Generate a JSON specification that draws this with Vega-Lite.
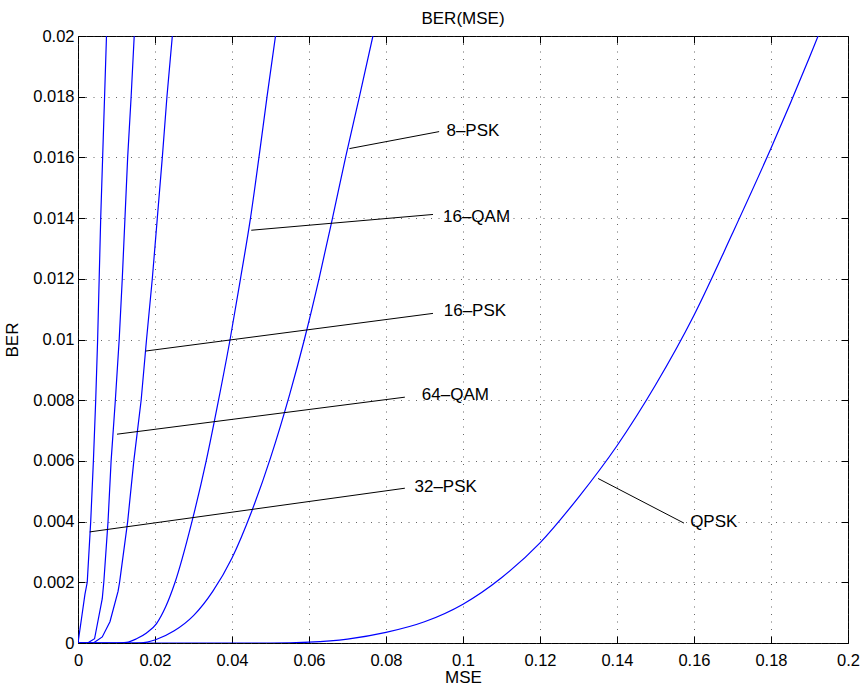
{
  "$schema": "https://vega.github.io/schema/vega-lite/v6.json",
  "width": 770,
  "height": 607,
  "autosize": {"type": "none"},
  "padding": {"left": 78, "top": 36, "right": 13, "bottom": 46},
  "background": "white",
  "title": {"text": "BER(MSE)", "fontSize": 17, "font": "Liberation Sans", "fontWeight": "normal", "color": "black", "offset": 0, "anchor": "middle"},
  "config": {
    "view": {"stroke": "black", "strokeWidth": 1},
    "axis": {
      "labelFont": "Liberation Sans", "labelFontSize": 16.5, "labelColor": "black",
      "titleFont": "Liberation Sans", "titleFontSize": 17, "titleFontWeight": "normal", "titleColor": "black",
      "tickColor": "black", "tickSize": -7, "tickWidth": 1,
      "domainColor": "black",
      "gridColor": "#333", "gridDash": [1, 6.5], "gridWidth": 1, "gridOpacity": 0.75
    }
  },
  "datasets": {
    "steep": [
      {"series": "32-PSK", "mse": 0, "ber": 0},
      {"series": "32-PSK", "mse": 0.0009, "ber": 0.0008},
      {"series": "32-PSK", "mse": 0.0018, "ber": 0.0016},
      {"series": "32-PSK", "mse": 0.0024, "ber": 0.002},
      {"series": "32-PSK", "mse": 0.0033, "ber": 0.004},
      {"series": "32-PSK", "mse": 0.0040, "ber": 0.006},
      {"series": "32-PSK", "mse": 0.0046, "ber": 0.008},
      {"series": "32-PSK", "mse": 0.0051, "ber": 0.010},
      {"series": "32-PSK", "mse": 0.0055, "ber": 0.012},
      {"series": "32-PSK", "mse": 0.0059, "ber": 0.014},
      {"series": "32-PSK", "mse": 0.0064, "ber": 0.016},
      {"series": "32-PSK", "mse": 0.0069, "ber": 0.018},
      {"series": "32-PSK", "mse": 0.0074, "ber": 0.020},
      {"series": "32-PSK", "mse": 0.0079, "ber": 0.022},
      {"series": "64-QAM", "mse": 0, "ber": 0},
      {"series": "64-QAM", "mse": 0.0025, "ber": 0},
      {"series": "64-QAM", "mse": 0.0043, "ber": 0.00014},
      {"series": "64-QAM", "mse": 0.0063, "ber": 0.00146},
      {"series": "64-QAM", "mse": 0.0067, "ber": 0.002},
      {"series": "64-QAM", "mse": 0.0078, "ber": 0.004},
      {"series": "64-QAM", "mse": 0.0086, "ber": 0.006},
      {"series": "64-QAM", "mse": 0.0097, "ber": 0.008},
      {"series": "64-QAM", "mse": 0.0107, "ber": 0.010},
      {"series": "64-QAM", "mse": 0.0115, "ber": 0.012},
      {"series": "64-QAM", "mse": 0.0122, "ber": 0.014},
      {"series": "64-QAM", "mse": 0.0129, "ber": 0.016},
      {"series": "64-QAM", "mse": 0.0138, "ber": 0.018},
      {"series": "64-QAM", "mse": 0.0146, "ber": 0.020},
      {"series": "64-QAM", "mse": 0.0155, "ber": 0.022},
      {"series": "16-PSK", "mse": 0, "ber": 0},
      {"series": "16-PSK", "mse": 0.004, "ber": 0},
      {"series": "16-PSK", "mse": 0.0063, "ber": 0.0002},
      {"series": "16-PSK", "mse": 0.0083, "ber": 0.0007},
      {"series": "16-PSK", "mse": 0.0104, "ber": 0.0017},
      {"series": "16-PSK", "mse": 0.0108, "ber": 0.002},
      {"series": "16-PSK", "mse": 0.0129, "ber": 0.004},
      {"series": "16-PSK", "mse": 0.0145, "ber": 0.006},
      {"series": "16-PSK", "mse": 0.0164, "ber": 0.008},
      {"series": "16-PSK", "mse": 0.0178, "ber": 0.010},
      {"series": "16-PSK", "mse": 0.0193, "ber": 0.012},
      {"series": "16-PSK", "mse": 0.0206, "ber": 0.014},
      {"series": "16-PSK", "mse": 0.0219, "ber": 0.016},
      {"series": "16-PSK", "mse": 0.0231, "ber": 0.018},
      {"series": "16-PSK", "mse": 0.0245, "ber": 0.020},
      {"series": "16-PSK", "mse": 0.0258, "ber": 0.022}
    ],
    "smooth": [
      {"series": "16-QAM", "mse": 0, "ber": 0},
      {"series": "16-QAM", "mse": 0.010, "ber": 0},
      {"series": "16-QAM", "mse": 0.0126, "ber": 0.00002},
      {"series": "16-QAM", "mse": 0.0152, "ber": 0.00014},
      {"series": "16-QAM", "mse": 0.0178, "ber": 0.00033},
      {"series": "16-QAM", "mse": 0.0204, "ber": 0.00064},
      {"series": "16-QAM", "mse": 0.0228, "ber": 0.0012},
      {"series": "16-QAM", "mse": 0.0251, "ber": 0.00196},
      {"series": "16-QAM", "mse": 0.0296, "ber": 0.004},
      {"series": "16-QAM", "mse": 0.0333, "ber": 0.006},
      {"series": "16-QAM", "mse": 0.0365, "ber": 0.008},
      {"series": "16-QAM", "mse": 0.0395, "ber": 0.010},
      {"series": "16-QAM", "mse": 0.0422, "ber": 0.012},
      {"series": "16-QAM", "mse": 0.0448, "ber": 0.014},
      {"series": "16-QAM", "mse": 0.0470, "ber": 0.016},
      {"series": "16-QAM", "mse": 0.0491, "ber": 0.018},
      {"series": "16-QAM", "mse": 0.0513, "ber": 0.020},
      {"series": "16-QAM", "mse": 0.0535, "ber": 0.022},
      {"series": "8-PSK", "mse": 0, "ber": 0},
      {"series": "8-PSK", "mse": 0.015, "ber": 0},
      {"series": "8-PSK", "mse": 0.018, "ber": 0.00003},
      {"series": "8-PSK", "mse": 0.020, "ber": 0.0001},
      {"series": "8-PSK", "mse": 0.025, "ber": 0.0004},
      {"series": "8-PSK", "mse": 0.030, "ber": 0.0009},
      {"series": "8-PSK", "mse": 0.035, "ber": 0.0017},
      {"series": "8-PSK", "mse": 0.040, "ber": 0.0028},
      {"series": "8-PSK", "mse": 0.045, "ber": 0.0043},
      {"series": "8-PSK", "mse": 0.050, "ber": 0.0061},
      {"series": "8-PSK", "mse": 0.055, "ber": 0.0082},
      {"series": "8-PSK", "mse": 0.0588, "ber": 0.010},
      {"series": "8-PSK", "mse": 0.0626, "ber": 0.012},
      {"series": "8-PSK", "mse": 0.0661, "ber": 0.014},
      {"series": "8-PSK", "mse": 0.0695, "ber": 0.016},
      {"series": "8-PSK", "mse": 0.0731, "ber": 0.018},
      {"series": "8-PSK", "mse": 0.0766, "ber": 0.020},
      {"series": "8-PSK", "mse": 0.0800, "ber": 0.022},
      {"series": "QPSK", "mse": 0, "ber": 0},
      {"series": "QPSK", "mse": 0.05, "ber": 0},
      {"series": "QPSK", "mse": 0.06, "ber": 0.00003},
      {"series": "QPSK", "mse": 0.07, "ber": 0.00013},
      {"series": "QPSK", "mse": 0.08, "ber": 0.00035},
      {"series": "QPSK", "mse": 0.09, "ber": 0.0007},
      {"series": "QPSK", "mse": 0.10, "ber": 0.00128},
      {"series": "QPSK", "mse": 0.11, "ber": 0.00215},
      {"series": "QPSK", "mse": 0.12, "ber": 0.0033},
      {"series": "QPSK", "mse": 0.13, "ber": 0.0048},
      {"series": "QPSK", "mse": 0.14, "ber": 0.0065},
      {"series": "QPSK", "mse": 0.15, "ber": 0.0085},
      {"series": "QPSK", "mse": 0.16, "ber": 0.0108},
      {"series": "QPSK", "mse": 0.17, "ber": 0.0135},
      {"series": "QPSK", "mse": 0.18, "ber": 0.0163},
      {"series": "QPSK", "mse": 0.19, "ber": 0.0193},
      {"series": "QPSK", "mse": 0.20, "ber": 0.0225}
    ],
    "ann": [
      {"label": "8–PSK", "x1": 0.0705, "y1": 0.01629, "x2": 0.0938, "y2": 0.01685, "tx": 0.0957, "ty": 0.01686},
      {"label": "16–QAM", "x1": 0.0450, "y1": 0.0136, "x2": 0.0922, "y2": 0.01412, "tx": 0.0948, "ty": 0.01405},
      {"label": "16–PSK", "x1": 0.01758, "y1": 0.00962, "x2": 0.0922, "y2": 0.01086, "tx": 0.0950, "ty": 0.01093},
      {"label": "64–QAM", "x1": 0.01013, "y1": 0.00688, "x2": 0.0849, "y2": 0.0081, "tx": 0.0893, "ty": 0.00816},
      {"label": "32–PSK", "x1": 0.00304, "y1": 0.00366, "x2": 0.0849, "y2": 0.0051, "tx": 0.0874, "ty": 0.00514},
      {"label": "QPSK", "x1": 0.1351, "y1": 0.00542, "x2": 0.1574, "y2": 0.00395, "tx": 0.1590, "ty": 0.00398}
    ]
  },
  "layer": [
    {
      "data": {"name": "steep"},
      "mark": {"type": "line", "color": "#0000ff", "strokeWidth": 1.2, "clip": true},
      "encoding": {
        "x": {"field": "mse", "type": "quantitative", "scale": {"domain": [0, 0.2], "nice": false, "zero": false},
              "axis": {"orient": "bottom", "title": "MSE", "values": [0, 0.02, 0.04, 0.06, 0.08, 0.1, 0.12, 0.14, 0.16, 0.18, 0.2], "format": "~g", "grid": true, "labelPadding": 16, "labelFlush": false, "domain": false, "titleY": 34, "titleBaseline": "middle"}},
        "y": {"field": "ber", "type": "quantitative", "scale": {"domain": [0, 0.02], "nice": false, "zero": false},
              "axis": {"orient": "left", "title": "BER", "values": [0, 0.002, 0.004, 0.006, 0.008, 0.01, 0.012, 0.014, 0.016, 0.018, 0.02], "format": "~g", "grid": true, "labelPadding": 11, "labelFlush": false, "domain": false, "titleX": -66, "titleY": 303.5, "titleAngle": -90, "titleBaseline": "middle", "titleAlign": "center"}},
        "detail": {"field": "series"}
      }
    },
    {
      "data": {"name": "smooth"},
      "mark": {"type": "line", "color": "#0000ff", "strokeWidth": 1.2, "clip": true, "interpolate": "monotone"},
      "encoding": {
        "x": {"field": "mse", "type": "quantitative", "axis": null},
        "y": {"field": "ber", "type": "quantitative", "axis": null},
        "detail": {"field": "series"}
      }
    },
    {
      "data": {"name": "ann"},
      "mark": {"type": "rule", "color": "black", "strokeWidth": 1},
      "encoding": {
        "x": {"field": "x1", "type": "quantitative", "axis": {"orient": "top", "title": null, "labels": false, "grid": false, "domain": false, "values": [0, 0.02, 0.04, 0.06, 0.08, 0.1, 0.12, 0.14, 0.16, 0.18, 0.2]}},
        "y": {"field": "y1", "type": "quantitative", "axis": {"orient": "right", "title": null, "labels": false, "grid": false, "domain": false, "values": [0, 0.002, 0.004, 0.006, 0.008, 0.01, 0.012, 0.014, 0.016, 0.018, 0.02]}},
        "x2": {"field": "x2"},
        "y2": {"field": "y2"}
      }
    },
    {
      "data": {"name": "ann"},
      "mark": {"type": "text", "align": "left", "baseline": "middle", "fontSize": 17, "font": "Liberation Sans", "color": "black"},
      "encoding": {
        "x": {"field": "tx", "type": "quantitative", "axis": null},
        "y": {"field": "ty", "type": "quantitative", "axis": null},
        "text": {"field": "label"}
      }
    }
  ],
  "resolve": {"axis": {"x": "independent", "y": "independent"}}
}
